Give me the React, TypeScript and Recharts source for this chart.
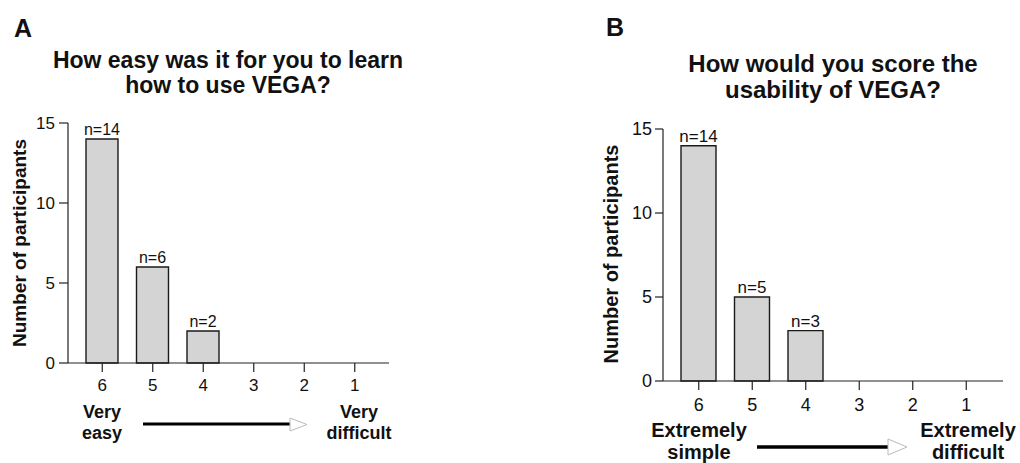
import { BarChart, Bar, XAxis, YAxis, LabelList } from 'recharts';

const scores = ['6', '5', '4', '3', '2', '1'];
const learnCounts = [14, 6, 2, 0, 0, 0];
const usabilityCounts = [14, 5, 3, 0, 0, 0];
const yTicks = [0, 5, 10, 15];

const FONT = '"Liberation Sans", Arial, sans-serif';

const learnData = scores.map((s, i) => ({ score: s, count: learnCounts[i] }));
const usabilityData = scores.map((s, i) => ({ score: s, count: usabilityCounts[i] }));

const nLabel = (v: any) => (Number(v) > 0 ? `n=${v}` : '');

interface PanelProps {
  data: Array<{ score: string; count: number }>;
  left: number;
  width: number;
  margin: { top: number; right: number; bottom: number; left: number };
  barSize: number;
  tickFont: number;
  labelFont: number;
  xTickMargin: number;
  yTickSize: number;
  yTickMargin: number;
  pad: { left: number; right: number };
}

function Panel(p: PanelProps) {
  return (
    <div style={{ position: 'absolute', left: p.left, top: 0 }}>
      <BarChart width={p.width} height={463} data={p.data} margin={p.margin}>
        <XAxis
          dataKey="score"
          height={30}
          padding={p.pad}
          tickSize={9}
          tickMargin={p.xTickMargin}
          stroke="#222"
          tick={{ fill: '#111', fontSize: p.tickFont, fontFamily: FONT }}
          tickLine={{ stroke: '#222', strokeWidth: 1.2 }}
          axisLine={{ stroke: '#222', strokeWidth: 1.2 }}
        />
        <YAxis
          width={40}
          domain={[0, 15]}
          ticks={yTicks}
          tickSize={p.yTickSize}
          tickMargin={p.yTickMargin}
          stroke="#222"
          tick={{ fill: '#111', fontSize: p.tickFont, fontFamily: FONT }}
          tickLine={{ stroke: '#222', strokeWidth: 1.2 }}
          axisLine={{ stroke: '#222', strokeWidth: 1.2 }}
        />
        <Bar
          dataKey="count"
          barSize={p.barSize}
          fill="#d4d4d4"
          stroke="#1a1a1a"
          strokeWidth={1.4}
          isAnimationActive={false}
        >
          <LabelList
            dataKey="count"
            position="top"
            offset={4}
            formatter={nLabel}
            style={{ fill: '#111', fontSize: p.labelFont, fontFamily: FONT }}
          />
        </Bar>
      </BarChart>
    </div>
  );
}

export default function App() {
  return (
    <div
      style={{
        position: 'absolute',
        left: 0,
        top: 0,
        width: 1020,
        height: 463,
        background: '#fff',
        fontFamily: FONT,
      }}
    >
      <Panel
        data={learnData}
        left={0}
        width={420}
        margin={{ top: 123, right: 31, bottom: 70, left: 28 }}
        barSize={32}
        tickFont={17}
        labelFont={16}
        xTickMargin={7}
        yTickSize={9}
        yTickMargin={4}
        pad={{ left: 9, right: 9 }}
      />
      <Panel
        data={usabilityData}
        left={600}
        width={420}
        margin={{ top: 129, right: 17, bottom: 52, left: 23 }}
        barSize={35}
        tickFont={18}
        labelFont={17}
        xTickMargin={8}
        yTickSize={8}
        yTickMargin={3}
        pad={{ left: 9, right: 10 }}
      />

      <svg
        width={1020}
        height={463}
        style={{ position: 'absolute', left: 0, top: 0, pointerEvents: 'none' }}
        fontFamily={FONT}
        fontWeight="bold"
        fill="#111"
      >
        {/* panel letters */}
        <text x={14} y={37} fontSize={25}>A</text>
        <text x={606} y={36} fontSize={25}>B</text>

        {/* titles */}
        <text x={228} y={68} fontSize={23} textAnchor="middle">How easy was it for you to learn</text>
        <text x={228} y={93} fontSize={23} textAnchor="middle">how to use VEGA?</text>
        <text x={833} y={72} fontSize={24} textAnchor="middle">How would you score the</text>
        <text x={833} y={98} fontSize={24} textAnchor="middle">usability of VEGA?</text>

        {/* y axis titles */}
        <text
          x={19}
          y={243}
          fontSize={19}
          textAnchor="middle"
          dominantBaseline="central"
          transform="rotate(-90 19 243)"
        >
          Number of participants
        </text>
        <text
          x={611}
          y={254}
          fontSize={20}
          textAnchor="middle"
          dominantBaseline="central"
          transform="rotate(-90 611 254)"
        >
          Number of participants
        </text>

        {/* scale ends, panel A */}
        <text x={102} y={418} fontSize={18} textAnchor="middle">Very</text>
        <text x={102} y={439} fontSize={18} textAnchor="middle">easy</text>
        <text x={359} y={418} fontSize={18} textAnchor="middle">Very</text>
        <text x={359} y={439} fontSize={18} textAnchor="middle">difficult</text>
        <line x1={143} y1={424} x2={290} y2={424} stroke="#000" strokeWidth={3.2} />
        <polygon points="290,418 307,424.5 290,431" fill="#fff" stroke="#bbb" strokeWidth={1} />

        {/* scale ends, panel B */}
        <text x={699} y={437} fontSize={20} textAnchor="middle">Extremely</text>
        <text x={699} y={459} fontSize={20} textAnchor="middle">simple</text>
        <text x={968} y={437} fontSize={20} textAnchor="middle">Extremely</text>
        <text x={968} y={459} fontSize={20} textAnchor="middle">difficult</text>
        <line x1={757} y1={447} x2={889} y2={447} stroke="#000" strokeWidth={3.4} />
        <polygon points="888,439 907,447 888,455" fill="#fff" stroke="#bbb" strokeWidth={1} />
      </svg>
    </div>
  );
}
